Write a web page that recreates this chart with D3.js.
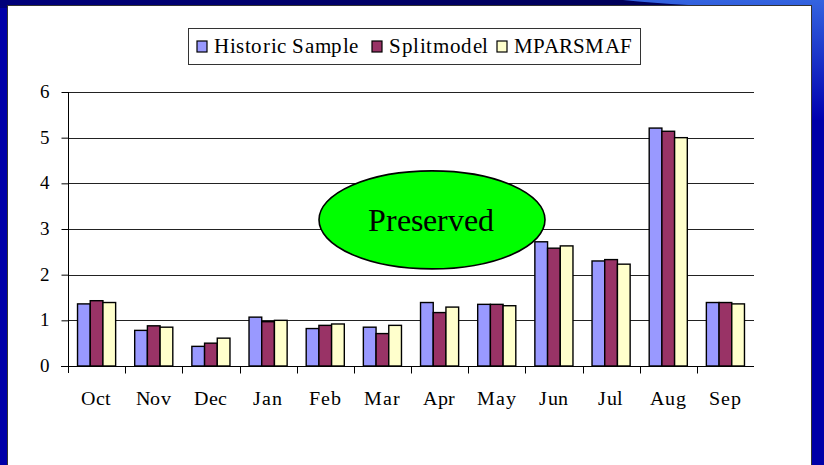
<!DOCTYPE html>
<html>
<head>
<meta charset="utf-8">
<script src="https://cdn.jsdelivr.net/npm/d3@7"></script>
<style>
  @font-face {
    font-family: "ChartSerif";
    src: local("Liberation Serif"), local("LiberationSerif"), local("LiberationSerif-Regular"), local("Times New Roman");
  }
</style>
</head>
<body style="margin:0;background:#0000a8">
<svg id="chart" width="824" height="465" style="display:block"></svg>
<script>
// data
var months = ["Oct", "Nov", "Dec", "Jan", "Feb", "Mar", "Apr", "May", "Jun", "Jul", "Aug", "Sep"];
var seriesNames = ["Historic Sample", "Splitmodel", "MPARSMAF"];
var historic   = [1.36, 0.78, 0.43, 1.07, 0.82, 0.85, 1.39, 1.35, 2.72, 2.30, 5.21, 1.39];
var splitmodel = [1.43, 0.88, 0.50, 0.97, 0.89, 0.71, 1.17, 1.35, 2.58, 2.33, 5.14, 1.39];
var mparsmaf   = [1.39, 0.85, 0.61, 1.00, 0.92, 0.89, 1.29, 1.32, 2.63, 2.23, 5.00, 1.36];
var yTicks = [0, 1, 2, 3, 4, 5, 6];
var colors = ["#9999ff", "#993366", "#ffffcc"];
var note = "Preserved";

var serif = '"ChartSerif", "Liberation Serif", "Times New Roman", serif';
var svg = d3.select('#chart');

//================================
// Slide background
var defs = svg.append('defs');
var topGrad = defs.append('linearGradient').attr('id', 'topGrad')
    .attr('x1', 0).attr('y1', 0).attr('x2', 1).attr('y2', 0);
topGrad.append('stop').attr('offset', '0%').attr('stop-color', '#00007a');
topGrad.append('stop').attr('offset', '100%').attr('stop-color', '#000050');
var rightGrad = defs.append('linearGradient').attr('id', 'rightGrad')
    .attr('x1', 0).attr('y1', 0).attr('x2', 0).attr('y2', 1);
rightGrad.append('stop').attr('offset', '0%').attr('stop-color', '#3464e0');
rightGrad.append('stop').attr('offset', '100%').attr('stop-color', '#0000b0');

svg.append('rect').attr('x', 0).attr('y', 0).attr('width', 824).attr('height', 465)
  .attr('fill', '#0000a8');
svg.append('rect').attr('x', 0).attr('y', 0).attr('width', 824).attr('height', 8)
  .attr('fill', 'url(#topGrad)');
svg.append('path').attr('d', 'M623,0 L824,0 L824,120 L812,120 L812,8 Q700,8 623,0 Z')
  .attr('fill', 'url(#rightGrad)');
svg.append('rect').attr('x', 7.5).attr('y', 5.5).attr('width', 804).attr('height', 470)
  .attr('fill', '#fff').attr('stroke', '#333').attr('stroke-width', 1);

//================================
// Scales
var x = d3.scaleBand().domain(months).range([68, 754]).padding(0);
var bw = x.bandwidth() / 4.5;
var xs = d3.scaleBand().domain(seriesNames).range([0.75 * bw, 3.75 * bw]).padding(0);
var y = d3.scaleLinear().domain([0, 6]).range([366, 92]);

// gridlines
svg.append('g').selectAll('line').data(yTicks.slice(1)).enter().append('line')
  .attr('x1', 68).attr('x2', 754)
  .attr('y1', function(d) { return Math.round(y(d)) + 0.5; })
  .attr('y2', function(d) { return Math.round(y(d)) + 0.5; })
  .attr('stroke', '#222').attr('stroke-width', 1);

//================================
// Bars
var table = months.map(function(m, i) {
  return { month: m, values: [historic[i], splitmodel[i], mparsmaf[i]] };
});

var groups = svg.append('g').selectAll('g').data(table).enter().append('g')
  .attr('transform', function(d) { return 'translate(' + x(d.month) + ',0)'; });

groups.selectAll('rect').data(function(d) {
    return d.values.map(function(v, k) { return { name: seriesNames[k], value: v, k: k }; });
  }).enter().append('rect')
  .attr('x', function(d) { return xs(d.name); })
  .attr('y', function(d) { return y(d.value); })
  .attr('width', xs.bandwidth())
  .attr('height', function(d) { return y(0) - y(d.value); })
  .attr('fill', function(d) { return colors[d.k]; })
  .attr('stroke', '#000').attr('stroke-width', 1.4);

//================================
// Axes
var yAxis = svg.append('g').attr('transform', 'translate(68.5,0)')
  .call(d3.axisLeft(y).tickValues(yTicks).tickSize(7).tickFormat(''));
yAxis.select('.domain').attr('d', 'M0,' + y(6) + 'V' + (y(0) + 7));
yAxis.selectAll('.tick text').remove();

// y tick labels, drawn like the month labels
var yLabels = svg.append('g');
yLabels.selectAll('text').data(yTicks).enter().append('text')
  .attr('x', 50)
  .attr('y', function(d) { return y(d) + 6; })
  .attr('text-anchor', 'end')
  .style('font-family', serif)
  .style('font-size', '19px')
  .attr('fill', '#000')
  .text(function(d) { return d; });

var xAxis = svg.append('g').attr('transform', 'translate(0,' + (Math.round(y(0)) + 0.5) + ')');
xAxis.append('line').attr('x1', 61).attr('x2', 754).attr('stroke', '#000');
xAxis.selectAll('line.tick').data(months.slice(1)).enter().append('line')
  .attr('class', 'tick')
  .attr('x1', function(d) { return Math.round(x(d)) + 0.5; })
  .attr('x2', function(d) { return Math.round(x(d)) + 0.5; })
  .attr('y1', 0).attr('y2', 7).attr('stroke', '#000');
xAxis.selectAll('text').data(months).enter().append('text')
  .attr('x', function(d) { return x(d) + x.bandwidth() / 2; })
  .attr('y', 38)
  .attr('text-anchor', 'middle')
  .style('font-family', serif)
  .style('font-size', '20px')
  .attr('letter-spacing', 0.8)
  .text(function(d) { return d; });

//================================
// Legend
var legend = svg.append('g');
legend.append('rect').attr('x', 188.5).attr('y', 28.5).attr('width', 452).attr('height', 36)
  .attr('fill', '#fff').attr('stroke', '#333');
var legendX = [197, 372, 497];
var legendW = [145, 100, 118];
seriesNames.forEach(function(name, k) {
  legend.append('rect').attr('x', legendX[k]).attr('y', 41).attr('width', 10).attr('height', 11)
    .attr('fill', colors[k]).attr('stroke', '#000').attr('stroke-width', 1.2);
  var t = legend.append('text').attr('x', legendX[k] + 17).attr('y', 53)
    .style('font-family', serif)
    .style('font-size', '21px')
    .text(name);
  // spread letters to the width seen in the reference
  var natural = t.node().getComputedTextLength();
  var extra = (legendW[k] - natural) / name.length;
  if (extra > 0) t.attr('letter-spacing', extra.toFixed(2));
});

//================================
// Callout
svg.append('ellipse').attr('cx', x('Apr') + 21).attr('cy', y(3.2)).attr('rx', 113).attr('ry', 49)
  .attr('fill', '#00ff00').attr('stroke', '#000').attr('stroke-width', 1.6);
svg.append('text').attr('x', x('Apr') + 20).attr('y', y(3.2) + 11)
  .attr('text-anchor', 'middle')
  .style('font-family', serif)
  .style('font-size', '32px')
  .text(note);
</script>
</body>
</html>
